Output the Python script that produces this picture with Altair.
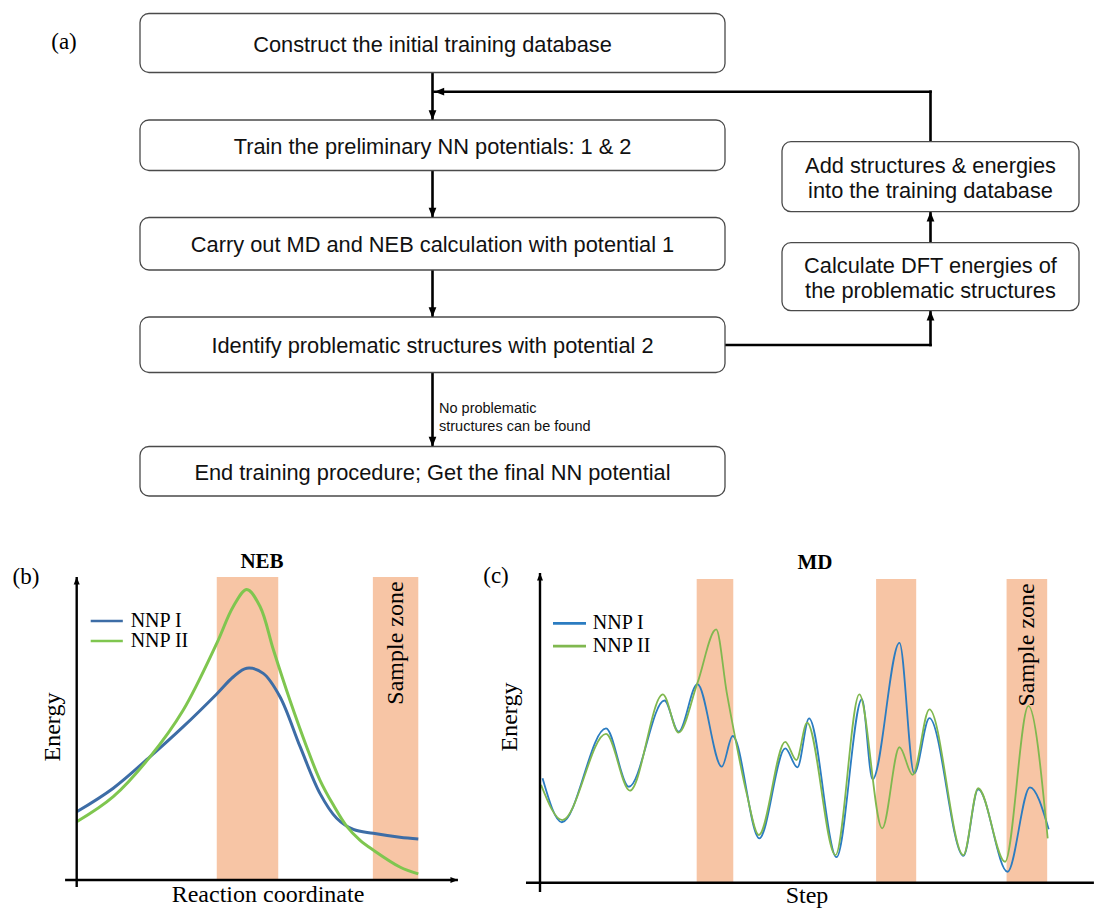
import altair as alt
import pandas as pd

W, H = 1094, 908

# ---------------- content ----------------
MAIN_STEPS = [
    "Construct the initial training database",
    "Train the preliminary NN potentials: 1 & 2",
    "Carry out MD and NEB calculation with potential 1",
    "Identify problematic structures with potential 2",
    "End training procedure; Get the final NN potential",
]
SIDE_STEPS = [
    ["Add structures & energies", "into the training database"],
    ["Calculate DFT energies of", "the problematic structures"],
]
EXIT_NOTE = ["No problematic", "structures can be found"]
SERIES = ["NNP I", "NNP II"]
ZONE_LABEL = "Sample zone"

# NEB energy profiles along the reaction coordinate
NEB_X1 = [0, 1.07, 2.15, 3.12, 4.10, 4.58, 4.98, 5.46, 5.95, 6.54, 7.12, 7.61, 8.10, 8.68, 9.46, 10]
NEB_E1 = [2.25, 3.03, 4.07, 5.06, 6.14, 6.70, 6.99, 6.82, 6.05, 4.40, 2.86, 2.04, 1.67, 1.54, 1.41, 1.35]
NEB_X2 = [0, 1.07, 2.15, 3.12, 4.10, 4.58, 4.98, 5.37, 5.76, 6.24, 6.73, 7.12, 7.51, 7.90, 8.29,
          8.68, 9.46, 10]
NEB_E2 = [1.92, 2.75, 4.07, 5.61, 7.81, 9.02, 9.59, 9.02, 7.59, 5.94, 4.40, 3.30, 2.48, 1.78, 1.32,
          0.99, 0.43, 0.20]
NEB_ZONES = [(4.10, 5.90), (8.67, 10.0)]

# MD energy traces along the simulation steps
MD_X1 = [0.5, 4.3, 13.0, 17.5, 24.5, 27.3, 31.0, 35.8, 37.95, 43.2, 48.3, 50.7, 53.0, 58.4,
         63.4, 65.5, 70.8, 73.7, 76.7, 83.4, 86.3, 92.1, 96.5, 100.2]
MD_E1 = [3.44, 1.99, 5.08, 3.16, 6.00, 4.97, 6.54, 3.82, 4.83, 1.46, 4.42, 3.80, 5.41, 0.84,
         6.04, 3.40, 7.90, 3.60, 5.42, 0.88, 3.07, 0.36, 3.14, 1.76]
MD_X2 = [0.2, 4.4, 13.0, 17.7, 24.2, 27.3, 31.0, 34.7, 36.8, 38.4, 40.7, 43.1, 48.3, 50.5, 52.6,
         58.2, 62.9, 67.4, 70.8, 73.4, 76.7, 83.4, 86.3, 91.6, 96.2, 100.0]
MD_E2 = [3.22, 2.06, 4.90, 3.03, 6.20, 4.94, 6.57, 8.34, 6.24, 4.81, 2.94, 1.57, 4.64, 4.04, 5.27,
         0.91, 6.20, 1.79, 4.46, 3.55, 5.71, 0.91, 3.11, 0.69, 5.82, 1.46]
MD_ZONES = [(30.86, 38.07), (66.2, 74.1), (91.9, 99.9)]

# ---------------- styling ----------------
SANS = "Liberation Sans"
SERIF = "Liberation Serif"
ZONE_FILL = "#f7c5a5"
NEB_COLORS = ["#3d6da6", "#7fc64f"]
MD_COLORS = ["#2b7cc1", "#80b84f"]

ARROW_DOWN = "M0,0L-1,-2.5L1,-2.5Z"
ARROW_UP = "M0,0L-1,2.5L1,2.5Z"
ARROW_LEFT = "M0,0L2.5,-1L2.5,1Z"
ARROW_RIGHT = "M0,0L-2.5,-1L-2.5,1Z"


def qscale(domain, rng):
    return alt.Scale(domain=domain, range=rng, nice=False, zero=False)


def make_enc(xs, ys):
    def enc(x="x", y="y", x2=None, y2=None):
        d = dict(x=alt.X(f"{x}:Q", scale=xs, axis=None),
                 y=alt.Y(f"{y}:Q", scale=ys, axis=None))
        if x2:
            d["x2"] = alt.X2(f"{x2}:Q")
        if y2:
            d["y2"] = alt.Y2(f"{y2}:Q")
        return d
    return enc


def heads(df, shape, size, enc):
    return alt.Chart(df).mark_point(shape=shape, filled=True, color="black", size=size,
                                    opacity=1, strokeWidth=0).encode(**enc())


# ================= (a) flowchart, laid out on the page grid =================
canvas = make_enc(qscale([0, W], [0, W]), qscale([0, H], [0, H]))

MAIN_L, MAIN_R = 140, 725
MAIN_ROWS = [(13.5, 72.5), (120, 170.5), (217.5, 270), (317, 372.5), (446.5, 496)]
SIDE_L, SIDE_R = 782, 1079
SIDE_ROWS = [(141.7, 211.7), (242.7, 310.7)]
SPINE_X = (MAIN_L + MAIN_R) / 2
LOOP_X = (SIDE_L + SIDE_R) / 2
LOOP_Y = 91.7
EXIT_Y = 345
TEXT_NUDGE = 1.5

boxes = pd.DataFrame(
    [dict(x=MAIN_L, x2=MAIN_R, y=a, y2=b) for a, b in MAIN_ROWS]
    + [dict(x=SIDE_L, x2=SIDE_R, y=a, y2=b) for a, b in SIDE_ROWS]
)
box_layer = alt.Chart(boxes).mark_rect(
    cornerRadius=9, fill="white", stroke="#4a4a4a", strokeWidth=1.3
).encode(**canvas(x2="x2", y2="y2"))

main_text = pd.DataFrame([
    dict(label=t, x=SPINE_X, y=(a + b) / 2 + TEXT_NUDGE) for t, (a, b) in zip(MAIN_STEPS, MAIN_ROWS)
])
side_text = pd.DataFrame([
    dict(label=line, x=LOOP_X, y=(a + b) / 2 + (i - 0.5) * 25 + TEXT_NUDGE)
    for lines, (a, b) in zip(SIDE_STEPS, SIDE_ROWS) for i, line in enumerate(lines)
])
step_text = alt.Chart(pd.concat([main_text, side_text])).mark_text(
    font=SANS, fontSize=21.8, color="#111", align="center", baseline="middle"
).encode(text="label:N", **canvas())

note_text = alt.Chart(pd.DataFrame([
    dict(label=t, x=SPINE_X + 6.5, y=409 + 18 * i) for i, t in enumerate(EXIT_NOTE)
])).mark_text(font=SANS, fontSize=14.5, color="#111", align="left", baseline="middle").encode(
    text="label:N", **canvas())

segments = []
for (a, b), (c, d) in zip(MAIN_ROWS[:-1], MAIN_ROWS[1:]):
    segments.append(dict(x=SPINE_X, y=b, x2=SPINE_X, y2=c))
segments += [
    dict(x=LOOP_X, y=SIDE_ROWS[0][0], x2=LOOP_X, y2=LOOP_Y),
    dict(x=LOOP_X, y=LOOP_Y, x2=SPINE_X + 2, y2=LOOP_Y),
    dict(x=MAIN_R, y=EXIT_Y, x2=LOOP_X, y2=EXIT_Y),
    dict(x=LOOP_X, y=EXIT_Y, x2=LOOP_X, y2=SIDE_ROWS[1][1]),
    dict(x=LOOP_X, y=SIDE_ROWS[1][0], x2=LOOP_X, y2=SIDE_ROWS[0][1]),
]
seg_layer = alt.Chart(pd.DataFrame(segments)).mark_rule(
    color="black", strokeWidth=2.6, strokeCap="square"
).encode(**canvas(x2="x2", y2="y2"))

heads_down = pd.DataFrame([dict(x=SPINE_X, y=c) for (c, _d) in MAIN_ROWS[1:]])
heads_up = pd.DataFrame([dict(x=LOOP_X, y=SIDE_ROWS[1][1]), dict(x=LOOP_X, y=SIDE_ROWS[0][1])])
heads_left = pd.DataFrame([dict(x=SPINE_X + 2, y=LOOP_Y)])

flow_labels = alt.Chart(pd.DataFrame([
    dict(label="(a)", x=64, y=42),
    dict(label="(b)", x=26, y=577),
    dict(label="(c)", x=496, y=576),
])).mark_text(font=SERIF, fontSize=23, color="black", align="center", baseline="middle").encode(
    text="label:N", **canvas())

titles = alt.Chart(pd.DataFrame([
    dict(label="NEB", x=262, y=562),
    dict(label="MD", x=815, y=563),
])).mark_text(font=SERIF, fontSize=21, fontWeight="bold", color="black", align="center",
              baseline="middle").encode(text="label:N", **canvas())

axis_titles = alt.Chart(pd.DataFrame([
    dict(label="Reaction coordinate", x=268, y=895),
    dict(label="Step", x=807, y=896),
])).mark_text(font=SERIF, fontSize=24, color="black", align="center", baseline="middle").encode(
    text="label:N", **canvas())

energy_titles = alt.Chart(pd.DataFrame([
    dict(label="Energy", x=53, y=727),
    dict(label="Energy", x=510, y=717),
])).mark_text(font=SERIF, fontSize=24, color="black", align="center", baseline="middle",
              angle=270).encode(text="label:N", **canvas())

flow = alt.layer(
    seg_layer, box_layer, step_text, note_text,
    heads(heads_down, ARROW_DOWN, 60, canvas),
    heads(heads_up, ARROW_UP, 60, canvas),
    heads(heads_left, ARROW_LEFT, 60, canvas),
    flow_labels, titles, axis_titles, energy_titles,
)


# ================= energy panels =================
def panel(xs, ys, x1, e1, x2, e2, zones, colors, width, interp, legend, axes, zone_text_y):
    enc = make_enc(xs, ys)
    zone_df = pd.DataFrame([dict(x=a, x2=b, y=0, y2=10) for a, b in zones])
    zone_layer = alt.Chart(zone_df).mark_rect(fill=ZONE_FILL, opacity=1).encode(
        **enc(x2="x2", y2="y2"))

    curves = []
    for xs_, es_, name, col in zip([x1, x2], [e1, e2], SERIES, colors):
        df = pd.DataFrame(dict(x=xs_, y=es_, series=name))
        curves.append(alt.Chart(df).mark_line(
            interpolate=interp, color=col, strokeWidth=width
        ).encode(**enc()))

    (ax_x0, ax_x1), (ax_y0, ax_y1), x_arrow = axes
    axis_df = pd.DataFrame([
        dict(x=ax_x0, y=0, x2=ax_x1, y2=0),
        dict(x=0, y=ax_y0, x2=0, y2=ax_y1),
    ])
    axis_layer = alt.Chart(axis_df).mark_rule(color="black", strokeWidth=2.4).encode(
        **enc(x2="x2", y2="y2"))
    up_head = heads(pd.DataFrame([dict(x=0, y=ax_y1)]), ARROW_UP, 36, enc)
    layers = [zone_layer] + curves + [axis_layer, up_head]
    if x_arrow:
        layers.append(heads(pd.DataFrame([dict(x=ax_x1, y=0)]), ARROW_RIGHT, 36, enc))

    (lx0, lx1, ltx), ly = legend
    key_df = pd.DataFrame([dict(x=lx0, x2=lx1, y=yy, label=s) for yy, s in zip(ly, SERIES)])
    for i, col in enumerate(colors):
        layers.append(alt.Chart(key_df.iloc[[i]]).mark_rule(color=col, strokeWidth=2.6).encode(
            **enc(x2="x2")))
    layers.append(alt.Chart(key_df.assign(tx=ltx)).mark_text(
        font=SERIF, fontSize=20, color="black", align="left", baseline="middle"
    ).encode(text="label:N", **enc(x="tx")))

    last = zones[-1]
    layers.append(alt.Chart(pd.DataFrame([dict(x=(last[0] + last[1]) / 2, y=zone_text_y,
                                               label=ZONE_LABEL)])).mark_text(
        font=SERIF, fontSize=24, color="black", align="center", baseline="middle", angle=270
    ).encode(text="label:N", **enc()))
    return alt.layer(*layers)


neb = panel(
    qscale([0, 10], [76.7, 418.3]), qscale([0, 10], [880, 577]),
    NEB_X1, NEB_E1, NEB_X2, NEB_E2, NEB_ZONES, NEB_COLORS, 3.0, "catmull-rom",
    legend=((0.41, 1.35, 1.58), [8.55, 7.89]),
    axes=((-0.34, 11.16), (-0.23, 10.0), True),
    zone_text_y=7.82,
)

md = panel(
    qscale([0, 100], [540, 1047.7]), qscale([0, 10], [882.7, 579]),
    MD_X1, MD_E1, MD_X2, MD_E2, MD_ZONES, MD_COLORS, 1.8, "monotone",
    legend=((2.56, 9.06, 10.4), [8.54, 7.79]),
    axes=((-2.76, 109.1), (-0.31, 10.2), False),
    zone_text_y=7.83,
)

chart = alt.layer(flow, neb, md).resolve_scale(
    x="independent", y="independent"
).properties(
    width=W, height=H, autosize=alt.AutoSizeParams(type="none"), padding=0,
    background="white",
).configure_view(stroke=None)

chart.save("out.html", embed_options={"renderer": "svg", "actions": False})
